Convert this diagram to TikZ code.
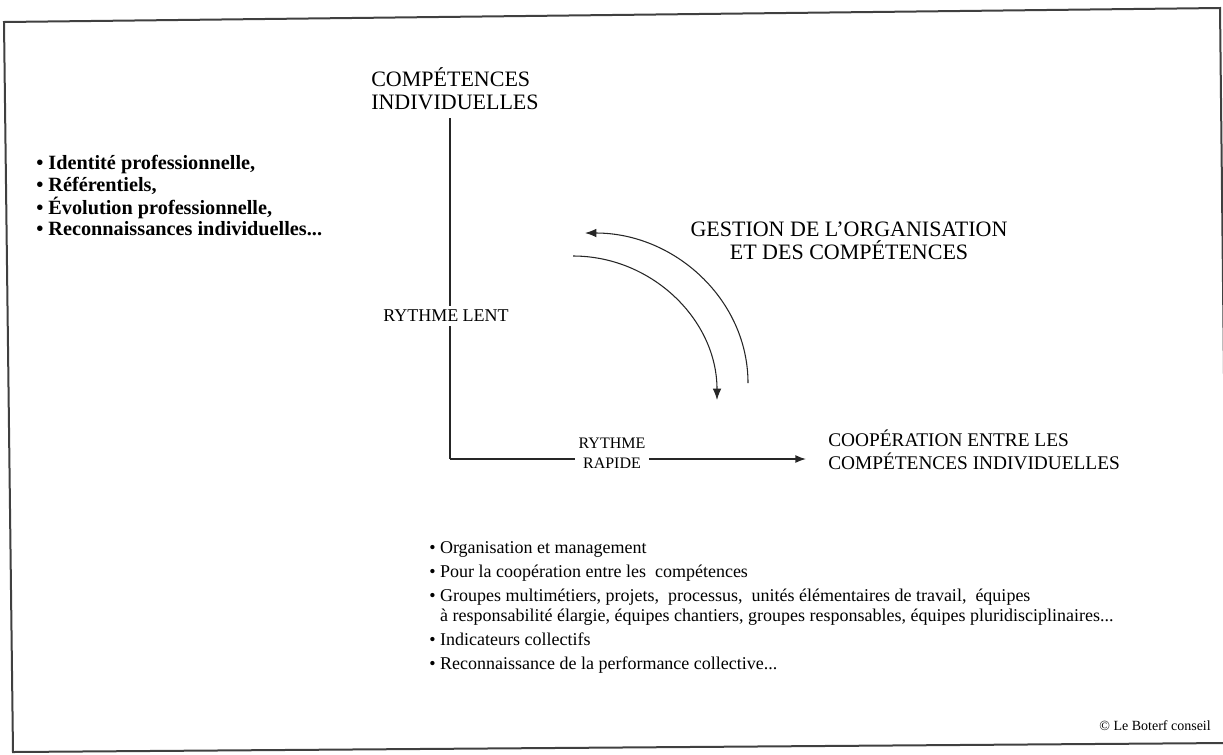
\documentclass[tikz,border=0pt]{standalone}
\usepackage{fontspec}
\setmainfont{Liberation Serif}
\usetikzlibrary{arrows.meta}
\begin{document}
\begin{tikzpicture}[x=0.75pt,y=-0.75pt,
  frame/.style={line width=1.5pt, draw=black!75},
  axis/.style={line width=1.1pt, draw=black!85},
  flow/.style={line width=0.8pt, draw=black!85, -{Latex[length=8.5pt,width=6.5pt]}},
  head/.style={inner sep=0pt, align=left, font=\fontsize{16.5}{17.25}\selectfont},
  small/.style={inner sep=0pt, font=\fontsize{13.5}{15}\selectfont},
  list/.style={inner sep=0pt, align=left, font=\bfseries\fontsize{15.2}{16.5}\selectfont},
  blist/.style={inner sep=0pt, align=left, font=\fontsize{13.5}{15}\selectfont},
]
\useasboundingbox (0,0) rectangle (1223,754);
% frame
\draw[frame] (4,22) -- (1220,8) -- (1228,743) -- (13,752) -- cycle;

% texts
\node[head, anchor=west] (ci) at (371,89) {COMPÉTENCES\\INDIVIDUELLES};
\node[list, anchor=west] (left) at (36,196) {\textbullet\ Identité professionnelle,\\
\textbullet\ Référentiels,\\
\textbullet\ Évolution professionnelle,\\
\textbullet\ Reconnaissances individuelles...};
\node[head, align=center] (gest) at (849,241) {GESTION DE L'ORGANISATION\\ET DES COMPÉTENCES};
\node[head, anchor=west, font=\fontsize{14.5}{17.25}\selectfont] (coop) at (828,450) {COOPÉRATION ENTRE LES\\COMPÉTENCES INDIVIDUELLES};

% axes
\coordinate (vtop) at (450,118);
\coordinate (corner) at (450,459);
\coordinate (hend) at (806,459);
\draw[axis] (vtop) -- (corner);
\draw[axis, -{Latex[length=8pt,width=6pt]}] (corner) -- (hend);
\node[small, fill=white, inner sep=3pt] (lent) at (446,316) {RYTHME LENT};
\node[small, fill=white, inner sep=3pt, align=center, font=\fontsize{12}{15}\selectfont] (rapide) at (612,453) {RYTHME\\RAPIDE};

% curved arrows
\coordinate (a1s) at (748,383);
\coordinate (a1e) at (585,233);
\draw[flow] (a1s) .. controls (748,300) and (675,233) .. (a1e);
\coordinate (a2s) at (573,256);
\coordinate (a2e) at (717,400);
\draw[flow] (a2s) .. controls (652,256) and (717,320) .. (a2e);

% bottom list
\node[blist, anchor=north west] (bottom) at (429,541) {\textbullet\ Organisation et management\\[3pt]
\textbullet\ Pour la coopération entre les\ \ compétences\\[3pt]
\textbullet\ Groupes multimétiers, projets,\ \ processus,\ \ unités élémentaires de travail,\ \ équipes\\
\hphantom{\textbullet\ }à responsabilité élargie, équipes chantiers, groupes responsables, équipes pluridisciplinaires...\\[3pt]
\textbullet\ Indicateurs collectifs\\[3pt]
\textbullet\ Reconnaissance de la performance collective...};

\node[inner sep=0pt, anchor=east, font=\fontsize{10.5}{12}\selectfont] (copy) at (1211,726) {\textcopyright\ Le Boterf conseil};
\end{tikzpicture}
\end{document}
